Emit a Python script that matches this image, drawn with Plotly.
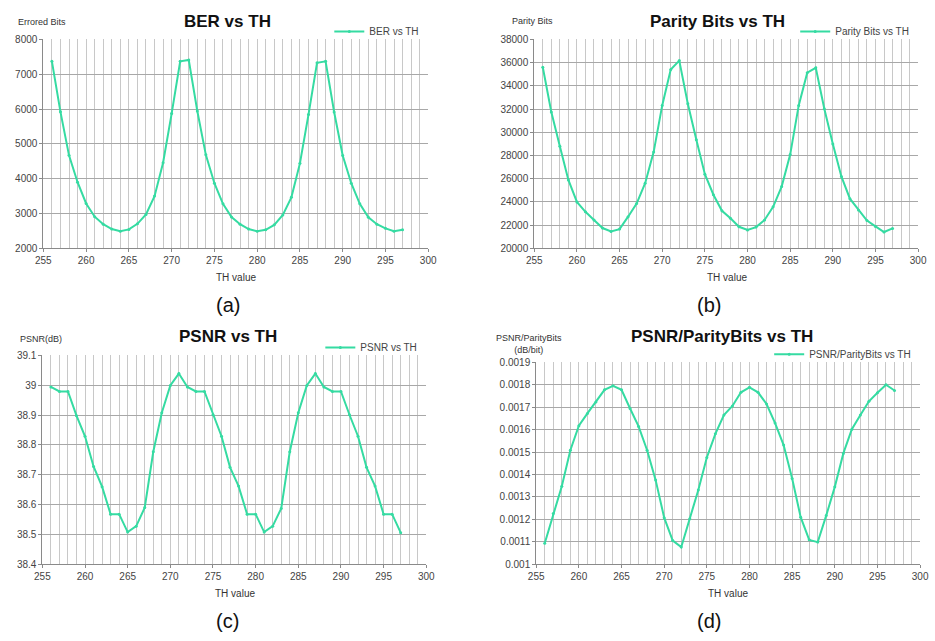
import plotly.graph_objects as go

th = list(range(256, 298))

ber = [7370, 5920, 4670, 3900, 3290, 2910, 2695, 2555, 2490, 2545, 2705, 2975, 3500, 4460, 5870, 7370, 7410,
       5945, 4685, 3870, 3280, 2900, 2695, 2555, 2490, 2535, 2675, 2960, 3465, 4440, 5840, 7325, 7370,
       5915, 4665, 3870, 3280, 2890, 2695, 2575, 2490, 2535]

parity = [35600, 31750, 28790, 25890, 24000, 23150, 22450, 21750, 21460, 21660, 22730, 23860, 25610, 28310,
          32310, 35410, 36170, 32450, 29350, 26390, 24620, 23240, 22590, 21860, 21580, 21830, 22450, 23580,
          25320, 28080, 32310, 35130, 35550, 32030, 28990, 26200, 24280, 23300, 22390, 21890, 21410, 21720]

psnr = [38.994, 38.979, 38.979, 38.898, 38.829, 38.728, 38.660, 38.568, 38.568, 38.508, 38.528, 38.590,
        38.777, 38.908, 38.999, 39.039, 38.994, 38.979, 38.979, 38.901, 38.829, 38.725, 38.662, 38.568,
        38.568, 38.508, 38.528, 38.587, 38.777, 38.908, 38.999, 39.039, 38.994, 38.979, 38.979, 38.901,
        38.829, 38.725, 38.662, 38.568, 38.568, 38.506]

ratio = [0.001094, 0.001226, 0.001348, 0.001508, 0.001617, 0.001672, 0.001723, 0.001777, 0.001795, 0.001777,
         0.001694, 0.001614, 0.001508, 0.001375, 0.001208, 0.001106, 0.001077, 0.001203, 0.001331, 0.001476,
         0.001581, 0.001665, 0.001705, 0.001766, 0.001788, 0.001766, 0.001714, 0.001629, 0.001531, 0.001382,
         0.001210, 0.001109, 0.001099, 0.001218, 0.001345, 0.001494, 0.001602, 0.001665, 0.001726, 0.001764,
         0.001800, 0.001774]

titles = ["BER vs TH", "Parity Bits vs TH", "PSNR vs TH", "PSNR/ParityBits vs TH"]
series_names = ["BER vs TH", "Parity Bits vs TH", "PSNR vs TH", "PSNR/ParityBits vs TH"]
ylabels = ["Errored Bits", "Parity Bits", "PSNR(dB)", "PSNR/ParityBits<br>(dB/bit)"]
captions = ["(a)", "(b)", "(c)", "(d)"]
yranges = [(2000, 8000), (20000, 38000), (38.4, 39.1), (0.001, 0.0019)]
ydticks = [1000, 2000, 0.1, 0.0001]
yformats = ["d", "d", "", ""]
series = [ber, parity, psnr, ratio]

W, H = 935, 641
# plot-area pixel boxes: (x0, x1, ytop, ybottom)
boxes = [(36, 428, 34, 247), (536, 927, 34, 247), (35, 426, 356, 569), (538, 929, 363, 569)]
LINE = "#35DBA2"
FONT = "Liberation Sans, Arial, sans-serif"

fig = go.Figure()
annotations = []
layout = {}
for i in range(4):
    x0, x1, yt, yb = boxes[i]
    sfx = "" if i == 0 else str(i + 1)
    leg = "legend" if i == 0 else "legend" + str(i + 1)
    fig.add_trace(go.Scatter(
        x=th, y=series[i], mode="lines+markers", name=series_names[i],
        line=dict(color=LINE, width=2), marker=dict(size=3, color=LINE),
        xaxis="x" + sfx, yaxis="y" + sfx, legend=leg, showlegend=True))
    layout["xaxis" + sfx] = dict(
        domain=[x0 / W, x1 / W], anchor="y" + sfx, range=[255, 300], dtick=5, tick0=255,
        showgrid=True, gridcolor="#C8C8C8", gridwidth=1,
        minor=dict(dtick=1, showgrid=True, gridcolor="#C8C8C8", gridwidth=1),
        showline=True, linecolor="#8A8A8A", linewidth=1, ticks="outside", ticklen=3,
        tickcolor="#8A8A8A", tickfont=dict(family=FONT, size=10, color="#444"), zeroline=False)
    layout["yaxis" + sfx] = dict(
        domain=[1 - yb / H, 1 - yt / H], anchor="x" + sfx, range=list(yranges[i]),
        dtick=ydticks[i], tick0=yranges[i][0], showgrid=True, gridcolor="#A8A8A8", gridwidth=1,
        showline=True, linecolor="#8A8A8A", linewidth=1, ticks="outside", ticklen=3,
        tickcolor="#8A8A8A", tickfont=dict(family=FONT, size=10, color="#444"),
        tickformat=yformats[i], exponentformat="none", zeroline=False)
    layout[leg] = dict(x=(x1 - 4) / W, y=1 - (yt - 8) / H, xanchor="right", yanchor="middle",
                       bgcolor="rgba(0,0,0,0)", font=dict(family=FONT, size=10, color="#444"),
                       itemwidth=30, tracegroupgap=0)

title_pos = [(224, 16), (723, 16), (224, 337), (727, 337)]
xlab_pos = [(232, 277), (732, 277), (231, 599), (733, 599)]
cap_pos = [(224, 305), (714, 305), (224, 627), (714, 627)]
ylab_pos = [(8, 16, "left"), (511, 15, "left"), (10, 339, "left"), (531, 344, "center")]
for i in range(4):
    tx, ty = title_pos[i]
    annotations.append(dict(text="<b>" + titles[i] + "</b>", x=tx / W, y=1 - ty / H, xref="paper", yref="paper",
                            showarrow=False, xanchor="center", yanchor="middle",
                            font=dict(family=FONT, size=17, color="#111")))
    lx, ly = xlab_pos[i]
    annotations.append(dict(text="TH value", x=lx / W, y=1 - ly / H, xref="paper", yref="paper",
                            showarrow=False, xanchor="center", yanchor="middle",
                            font=dict(family=FONT, size=10, color="#333")))
    cx, cy = cap_pos[i]
    annotations.append(dict(text=captions[i], x=cx / W, y=1 - cy / H, xref="paper", yref="paper",
                            showarrow=False, xanchor="center", yanchor="middle",
                            font=dict(family=FONT, size=20, color="#111")))
    yx, yy, anc = ylab_pos[i]
    annotations.append(dict(text=ylabels[i], x=yx / W, y=1 - yy / H, xref="paper", yref="paper",
                            showarrow=False, xanchor=anc, yanchor="middle", align="center",
                            font=dict(family=FONT, size=9, color="#333")))

fig.update_layout(width=W, height=H, margin=dict(l=0, r=0, t=0, b=0), paper_bgcolor="white",
                  plot_bgcolor="white", annotations=annotations, **layout)
fig.write_html("out.html")
